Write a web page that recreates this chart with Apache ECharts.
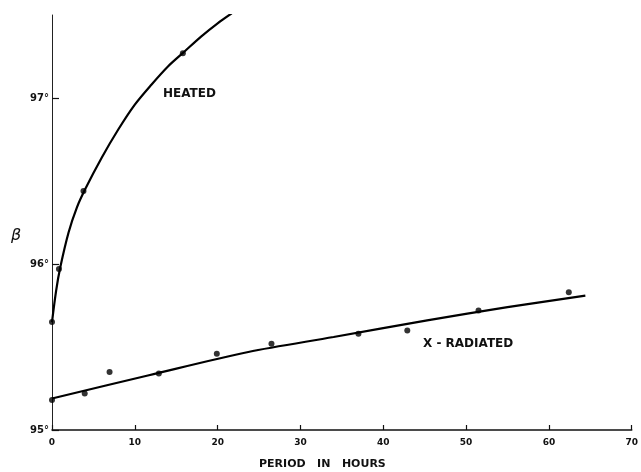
<!DOCTYPE html>
<html><head><meta charset="utf-8">
<script src="https://cdn.jsdelivr.net/npm/echarts@6/dist/echarts.min.js"></script>
<style>html,body{margin:0;padding:0;background:#fff}#c{width:641px;height:472px}</style>
</head><body><div id="c"></div>
<script>
var xTicks = [0, 10, 20, 30, 40, 50, 60, 70];
var yTickLabels = {95: '95°', 96: '96°', 97: '97°'};
var heatedX = [0, 0.84, 3.8, 15.8];
var heatedY = [95.65, 95.97, 96.44, 97.27];
var heatedCurveX = [0, 0.5, 1, 2, 3, 4, 6, 8, 10, 12, 14, 16, 18, 20, 21.7];
var heatedCurveY = [95.65, 95.84, 95.98, 96.19, 96.34, 96.45, 96.64, 96.81, 96.96, 97.08, 97.19, 97.28, 97.37, 97.45, 97.51];
var radX = [0, 3.95, 6.95, 12.9, 19.9, 26.5, 37, 42.9, 51.5, 62.4];
var radY = [95.18, 95.22, 95.35, 95.34, 95.46, 95.52, 95.58, 95.60, 95.72, 95.83];
var radLineX = [0, 11.7, 23.7, 34, 45.3, 55, 64.4];
var radLineY = [95.19, 95.33, 95.47, 95.56, 95.66, 95.74, 95.81];

function pairs(xs, ys){ return xs.map(function(x,i){ return [x, ys[i]]; }); }

var chart = echarts.init(document.getElementById('c'), null, {renderer:'canvas'});
var font = 'DejaVu Sans';
chart.setOption({
  animation: false,
  backgroundColor: '#fff',
  grid: {left: 52, right: 4, top: 15, bottom: 42},
  xAxis: {
    type: 'value', min: 0, max: 70, interval: 10,
    axisLine: {show: true, lineStyle: {color: '#111', width: 1.5}},
    axisTick: {show: true, inside: true, length: 5, lineStyle: {color: '#111', width: 1.2}},
    axisLabel: {color: '#111', fontFamily: font, fontWeight: 'bold', fontSize: 9, margin: 8,
      formatter: function(v){ return xTicks.indexOf(v) >= 0 ? String(v) : ''; }},
    splitLine: {show: false}
  },
  yAxis: {
    type: 'value', min: 95, max: 97.5, interval: 1,
    axisLine: {show: true, lineStyle: {color: '#222', width: 1}},
    axisTick: {show: true, inside: true, length: 7, lineStyle: {color: '#111', width: 1.2}},
    axisLabel: {color: '#111', fontFamily: font, fontWeight: 'bold', fontSize: 10, margin: 3, showMaxLabel: false,
      formatter: function(v){ return yTickLabels[v] || ''; }},
    splitLine: {show: false}
  },
  series: [
    {type: 'line', data: pairs(heatedCurveX, heatedCurveY), smooth: 0.3, symbol: 'none',
     lineStyle: {color: '#000', width: 2.2}, z: 2},
    {type: 'scatter', data: pairs(heatedX, heatedY), symbol: 'circle', symbolSize: 6,
     itemStyle: {color: '#000'}, z: 3},
    {type: 'line', data: pairs(radLineX, radLineY), smooth: 0.3, symbol: 'none',
     lineStyle: {color: '#000', width: 2.2}, z: 2},
    {type: 'scatter', data: pairs(radX, radY), symbol: 'circle', symbolSize: 6,
     itemStyle: {color: '#000'}, z: 3}
  ],
  graphic: [
    {type: 'text', left: 163, top: 88, style: {text: 'HEATED', fill: '#111', font: 'bold 12px "DejaVu Sans"'}},
    {type: 'text', left: 423, top: 338, style: {text: 'X - RADIATED', fill: '#111', font: 'bold 12px "DejaVu Sans"'}},
    {type: 'text', left: 259, top: 459, style: {text: 'PERIOD   IN   HOURS', fill: '#111', font: 'bold 11px "DejaVu Sans"'}},
    {type: 'text', left: 11, top: 228, style: {text: 'β', fill: '#111', font: 'italic 16px "DejaVu Sans"'}}
  ]
});
</script></body></html>
